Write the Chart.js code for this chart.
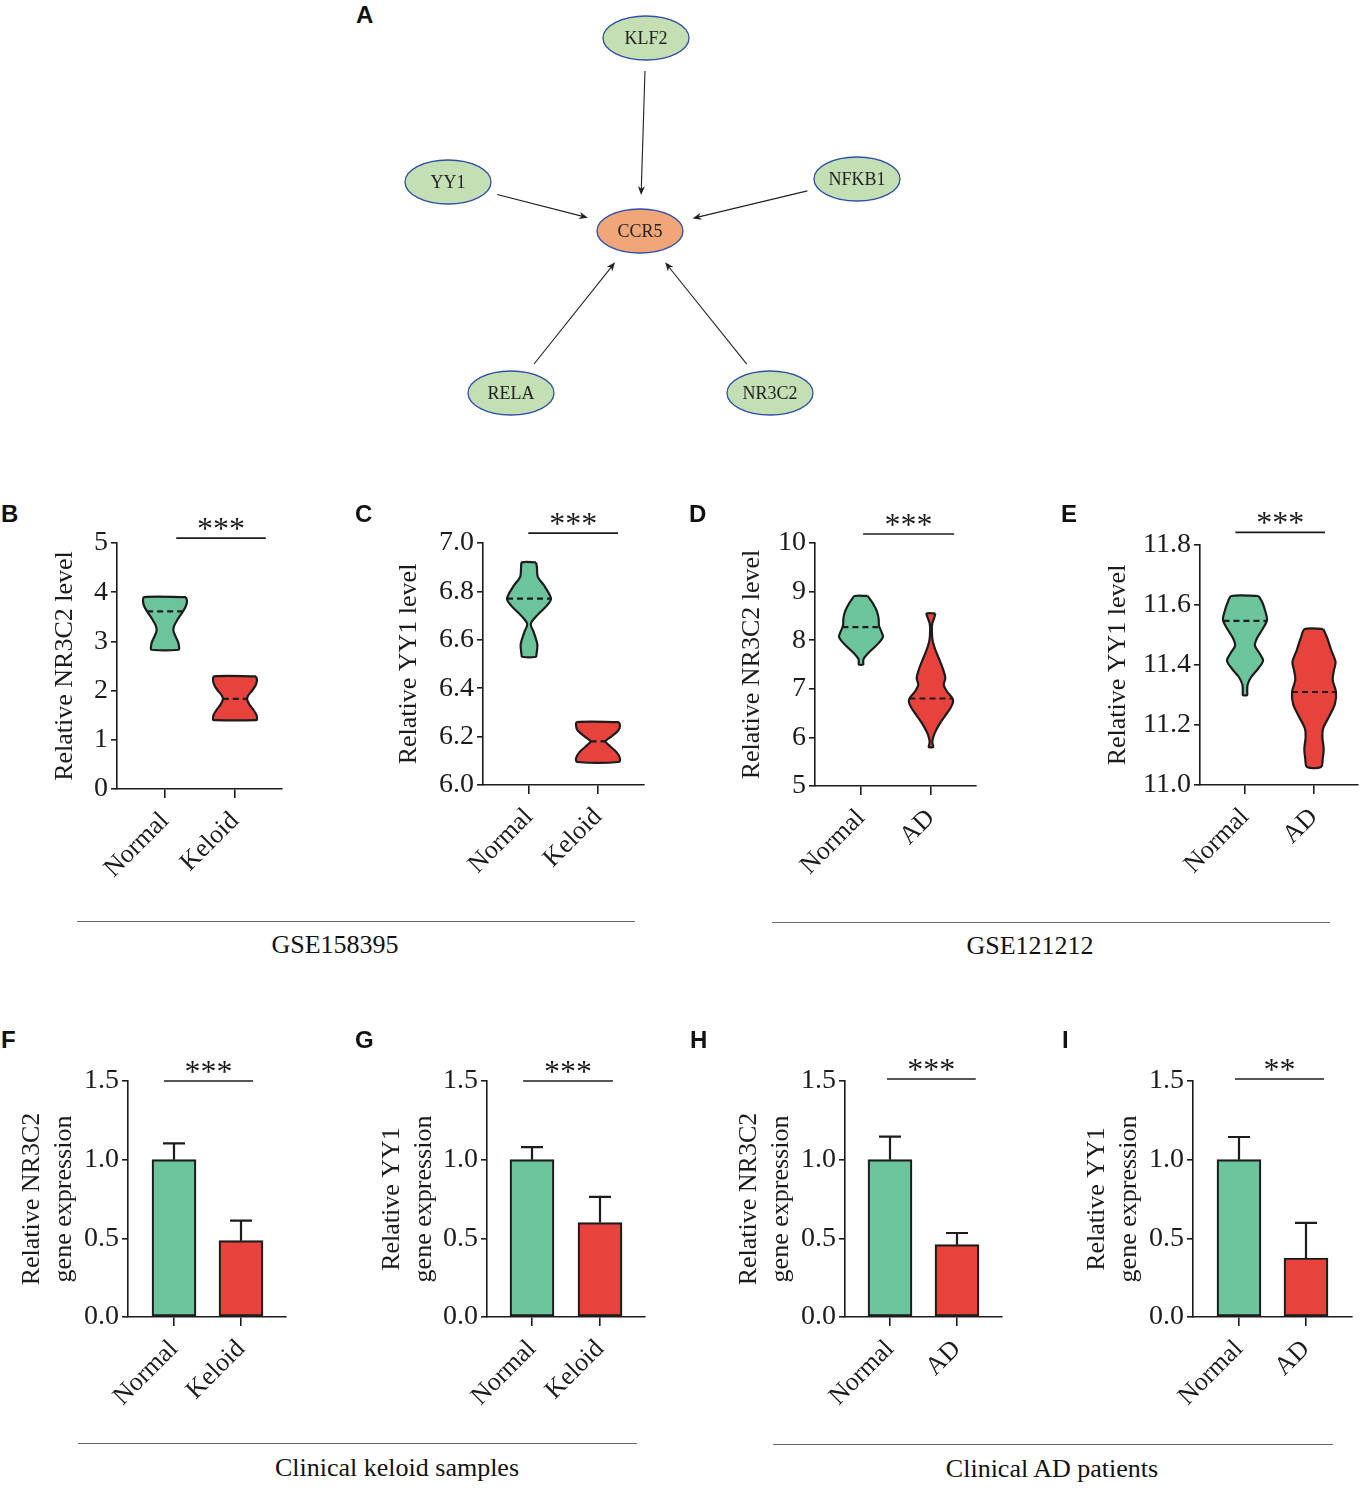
<!DOCTYPE html>
<html><head><meta charset="utf-8">
<script src="https://cdn.jsdelivr.net/npm/chart.js@4.4.1/dist/chart.umd.min.js"></script>
<style>
body{margin:0;background:#fff;}
#fig{position:relative;width:1369px;height:1493px;overflow:hidden;background:#fff;}
canvas{position:absolute;}
.lbl{position:absolute;font-family:"Liberation Sans",Arial,sans-serif;font-weight:bold;font-size:24px;line-height:24px;color:#111;}
.grp{position:absolute;font-family:"Liberation Serif","Times New Roman",serif;font-size:26px;line-height:26px;color:#111;transform:translate(-50%,-50%);white-space:nowrap;}
.rule{position:absolute;height:0;border-top:1px solid #6a6a6a;}
</style></head><body><div id="fig"></div>
<script>
// ---------------- DATA ----------------
// Panel A network (layout units, CCR5 at origin)
const networkNodes = ['KLF2','YY1','NFKB1','CCR5','RELA','NR3C2'];
const networkX = [0.06,-1.92,2.17,0,-1.29,1.30];
const networkY = [1.93,0.49,0.52,0,-1.62,-1.62];
const networkEdges = [['KLF2','CCR5'],['YY1','CCR5'],['NFKB1','CCR5'],['RELA','CCR5'],['NR3C2','CCR5']];

const keloidGroups = ['Normal','Keloid'];
const adGroups = ['Normal','AD'];

// Violin profiles: [value, relative density width]
const violinB_normal = [[3.90,0.95],[3.82,1.0],[3.72,0.95],[3.60,0.80],[3.45,0.58],[3.32,0.42],[3.22,0.38],[3.10,0.48],[2.98,0.60],[2.88,0.64],[2.83,0.62]];
const violinB_keloid = [[2.29,0.95],[2.22,1.0],[2.12,0.95],[2.00,0.78],[1.90,0.60],[1.82,0.55],[1.72,0.65],[1.60,0.85],[1.50,0.98],[1.42,1.0],[1.40,0.97]];
const medianB = [3.61,1.83];

const violinC_normal = [[6.92,0.32],[6.90,0.36],[6.86,0.40],[6.82,0.72],[6.77,1.0],[6.74,0.80],[6.70,0.36],[6.665,0.08],[6.63,0.22],[6.58,0.38],[6.54,0.34],[6.53,0.32]];
const violinC_keloid = [[6.26,0.95],[6.245,1.0],[6.225,0.92],[6.20,0.60],[6.18,0.34],[6.16,0.55],[6.135,0.85],[6.11,1.0],[6.095,0.95]];
const medianC = [6.77,6.18];

const violinD_normal = [[8.91,0.30],[8.85,0.40],[8.75,0.55],[8.60,0.72],[8.45,0.80],[8.30,0.82],[8.15,0.95],[8.07,1.0],[7.98,0.88],[7.85,0.60],[7.72,0.30],[7.62,0.12],[7.55,0.10],[7.50,0.10]];
const violinD_ad = [[8.55,0.20],[8.45,0.14],[8.35,0.06],[8.20,0.04],[8.00,0.07],[7.80,0.20],[7.60,0.38],[7.40,0.55],[7.22,0.65],[7.08,0.58],[6.95,0.72],[6.80,0.98],[6.72,1.0],[6.60,0.88],[6.45,0.65],[6.30,0.42],[6.12,0.20],[6.00,0.10],[5.90,0.06],[5.82,0.10],[5.80,0.10]];
const medianD = [8.27,6.80];

const violinE_normal = [[11.63,0.62],[11.61,0.78],[11.58,0.92],[11.55,1.0],[11.52,0.80],[11.49,0.55],[11.465,0.45],[11.44,0.65],[11.415,0.82],[11.39,0.62],[11.36,0.28],[11.335,0.12],[11.31,0.10],[11.30,0.10]];
const violinE_ad = [[11.52,0.42],[11.49,0.60],[11.45,0.78],[11.41,0.98],[11.38,0.90],[11.35,0.85],[11.31,1.0],[11.27,0.95],[11.23,0.70],[11.19,0.42],[11.16,0.38],[11.12,0.44],[11.09,0.40],[11.06,0.32]];
const medianE = [11.547,11.31];

// Bar data: mean and error (upper)
const barF_mean = [1.0,0.485], barF_err = [0.104,0.128];
const barG_mean = [1.0,0.60],  barG_err = [0.08,0.163];
const barH_mean = [1.0,0.46],  barH_err = [0.147,0.074];
const barI_mean = [1.0,0.375], barI_err = [0.144,0.223];

// Tick labels
const yTicksB = [0,1,2,3,4,5];
const yTicksC = [6.0,6.2,6.4,6.6,6.8,7.0];
const yTicksD = [5,6,7,8,9,10];
const yTicksE = [11.0,11.2,11.4,11.6,11.8];
const yTicksBar = [0.0,0.5,1.0,1.5];

// Significance annotations
const sigB = {from:1.16,to:2.44,y:5.1,text:'***'};
const sigC = {from:0.99,to:2.29,y:7.041,text:'***'};
const sigD = {from:1.03,to:2.33,y:10.185,text:'***'};
const sigE = {from:0.86,to:2.16,y:11.842,text:'***'};
const sigF = {from:0.85,to:2.18,y:1.5,text:'***'};
const sigG = {from:0.87,to:2.19,y:1.5,text:'***'};
const sigH = {from:0.955,to:2.28,y:1.513,text:'***'};
const sigI = {from:0.94,to:2.27,y:1.513,text:'**'};

// ---------------- STYLE / HELPERS ----------------
const FONT = '"Liberation Serif","Times New Roman",serif';
const GREEN = '#6CC49C', RED = '#E8423D', INK = '#1c1c1c', NODE_GREEN = '#C5DFB4', NODE_ORANGE = '#F0A679', NODE_EDGE = '#2E4FA6';
const fig = document.getElementById('fig');

function addCanvas(left, top, w, h) {
  const c = document.createElement('canvas');
  c.width = w; c.height = h;
  c.style.left = left + 'px'; c.style.top = top + 'px';
  c.style.width = w + 'px'; c.style.height = h + 'px';
  fig.appendChild(c);
  return c;
}
function addDiv(cls, text, left, top) {
  const d = document.createElement('div');
  d.className = cls; d.textContent = text;
  d.style.left = left + 'px'; d.style.top = top + 'px';
  fig.appendChild(d);
}
function addRule(left, top, width) {
  const d = document.createElement('div');
  d.className = 'rule';
  d.style.left = left + 'px'; d.style.top = top + 'px'; d.style.width = width + 'px';
  fig.appendChild(d);
}

const sigPlugin = {
  id: 'sig',
  afterDraw(chart, args, o) {
    if (!o || !o.text) return;
    const ctx = chart.ctx, x = chart.scales.x, y = chart.scales.y;
    const py = y.getPixelForValue(o.y);
    const x1 = x.getPixelForValue(o.from), x2 = x.getPixelForValue(o.to);
    ctx.save();
    ctx.strokeStyle = INK; ctx.lineWidth = 1.6;
    ctx.beginPath(); ctx.moveTo(x1, py); ctx.lineTo(x2, py); ctx.stroke();
    ctx.fillStyle = INK; ctx.font = '32px ' + FONT;
    ctx.textAlign = 'center'; ctx.textBaseline = 'alphabetic';
    ctx.fillText(o.text, (x1 + x2) / 2, py + 1);
    ctx.restore();
  }
};

const errPlugin = {
  id: 'err',
  afterDatasetsDraw(chart, args, o) {
    if (!o || !o.values) return;
    const ctx = chart.ctx, y = chart.scales.y;
    const meta = chart.getDatasetMeta(0);
    const ds = chart.data.datasets[0].data;
    ctx.save();
    ctx.strokeStyle = INK; ctx.lineWidth = 2.2;
    meta.data.forEach((bar, i) => {
      const top = y.getPixelForValue(ds[i].y + o.values[i]);
      ctx.beginPath();
      ctx.moveTo(bar.x, bar.y); ctx.lineTo(bar.x, top);
      ctx.moveTo(bar.x - o.cap, top); ctx.lineTo(bar.x + o.cap, top);
      ctx.stroke();
    });
    ctx.restore();
  }
};

function axesOptions(p) {
  const L = p.canvas[0], T = p.canvas[1], W = p.canvas[2], H = p.canvas[3];
  const yW = p.area.l - L;
  const xH = T + H - p.area.b;
  const sp = p.ticksPx[1] - p.ticksPx[0];
  const xmin = 1 - (p.ticksPx[0] - p.area.l) / sp;
  const xmax = 2 + (p.area.r - p.ticksPx[1]) / sp;
  const grid = (tl) => ({display: true, drawOnChartArea: false, drawTicks: true, tickLength: tl, color: INK, lineWidth: 1.6, offset: false});
  return {
    responsive: false, animation: false, events: [],
    layout: {padding: {left: 0, top: p.area.t - T, right: L + W - p.area.r, bottom: 0}},
    plugins: {legend: {display: false}, tooltip: {enabled: false}, sig: p.sig, err: p.err || {}},
    scales: {
      x: {
        type: 'linear', min: xmin, max: xmax, bounds: 'data', position: 'bottom', offset: false,
        afterBuildTicks: s => { s.ticks = p.cats.map((c, i) => ({value: i + 1})); },
        afterFit: s => { s.height = xH; s.paddingLeft = 0; s.paddingRight = 0; },
        ticks: {autoSkip: false, minRotation: 45, maxRotation: 45, padding: 8,
          font: {family: FONT, size: 26}, color: INK,
          callback: v => p.cats[Math.round(v) - 1]},
        grid: grid(9),
        border: {display: true, color: INK, width: 1.6}
      },
      y: {
        type: 'linear', min: p.yTicks[0], max: p.yTicks[p.yTicks.length - 1], bounds: 'data',
        afterBuildTicks: s => { s.ticks = p.yTicks.map(v => ({value: v})); },
        afterFit: s => { s.width = yW; s.paddingTop = 0; s.paddingBottom = 0; },
        ticks: {padding: 3, font: {family: FONT, size: 28}, color: INK,
          callback: v => Number(v).toFixed(p.dec)},
        grid: grid(6),
        border: {display: true, color: INK, width: 1.6},
        title: {display: true, text: p.title, color: INK, padding: 0,
          font: {family: FONT, size: 26, lineHeight: 1.2}}
      }
    }
  };
}

function polygon(profile, center, half) {
  const right = profile.map(q => ({x: center + q[1] * half, y: q[0]}));
  const left = profile.slice().reverse().map(q => ({x: center - q[1] * half, y: q[0]}));
  return right.concat(left, [right[0]]);
}
function widthAt(profile, v) {
  for (let i = 0; i < profile.length - 1; i++) {
    const a = profile[i][0], b = profile[i + 1][0];
    if (v <= a && v >= b) {
      const t = (a - v) / ((a - b) || 1);
      return profile[i][1] + (profile[i + 1][1] - profile[i][1]) * t;
    }
  }
  return 0;
}

function violinPanel(p) {
  const sp = p.ticksPx[1] - p.ticksPx[0];
  const half = 22 / sp;
  const colors = [GREEN, RED];
  const datasets = [];
  p.profiles.forEach((prof, i) => {
    const c = i + 1;
    const mw = widthAt(prof, p.medians[i]) * half;
    datasets.push({
      data: [{x: c - mw, y: p.medians[i]}, {x: c + mw, y: p.medians[i]}],
      showLine: true, borderColor: INK, borderWidth: 2.2, borderDash: [6, 4],
      pointRadius: 0, fill: false, tension: 0, order: 0
    });
    datasets.push({
      data: polygon(prof, c, half),
      showLine: true, borderColor: INK, borderWidth: 2.2, backgroundColor: colors[i],
      pointRadius: 0, fill: 'shape', tension: 0.3, order: 1
    });
  });
  const cv = addCanvas(...p.canvas);
  new Chart(cv, {type: 'scatter', data: {datasets}, options: axesOptions(p), plugins: [sigPlugin]});
}

function barPanel(p) {
  const cv = addCanvas(...p.canvas);
  const opts = axesOptions(p);
  opts.plugins.err = {values: p.errs, cap: 11};
  new Chart(cv, {
    type: 'bar',
    data: {datasets: [{
      data: p.means.map((m, i) => ({x: i + 1, y: m})),
      backgroundColor: [GREEN, RED], borderColor: INK, borderWidth: 2.2,
      borderSkipped: false, barThickness: 44
    }]},
    options: opts,
    plugins: [sigPlugin, errPlugin]
  });
}

// ---------------- PANEL A: network ----------------
(function () {
  const cv = addCanvas(380, 0, 540, 440);
  const netPlugin = {
    id: 'net',
    afterDatasetsDraw(chart) {
      const ctx = chart.ctx;
      const meta = chart.getDatasetMeta(0);
      const pos = {};
      networkNodes.forEach((n, i) => { pos[n] = {x: meta.data[i].x, y: meta.data[i].y}; });
      const rx = 43, ry = 22;
      const bd = (dx, dy) => 1 / Math.sqrt((dx / rx) ** 2 + (dy / ry) ** 2);
      ctx.save();
      ctx.strokeStyle = '#222'; ctx.fillStyle = '#222'; ctx.lineWidth = 1.1;
      networkEdges.forEach(([s, t]) => {
        const S = pos[s], T = pos[t];
        let dx = T.x - S.x, dy = T.y - S.y;
        const len = Math.hypot(dx, dy); dx /= len; dy /= len;
        const b = bd(dx, dy);
        const sx = S.x + dx * (b + 11), sy = S.y + dy * (b + 11);
        const ex = T.x - dx * (b + 14), ey = T.y - dy * (b + 14);
        const hl = 9, hw = 3.6;
        ctx.beginPath(); ctx.moveTo(sx, sy); ctx.lineTo(ex - dx * hl * 0.6, ey - dy * hl * 0.6); ctx.stroke();
        ctx.beginPath();
        ctx.moveTo(ex, ey);
        ctx.lineTo(ex - dx * hl - dy * hw, ey - dy * hl + dx * hw);
        ctx.lineTo(ex - dx * hl * 0.7, ey - dy * hl * 0.7);
        ctx.lineTo(ex - dx * hl + dy * hw, ey - dy * hl - dx * hw);
        ctx.closePath(); ctx.fill();
      });
      networkNodes.forEach(n => {
        const P = pos[n];
        ctx.beginPath(); ctx.ellipse(P.x, P.y, rx, ry, 0, 0, Math.PI * 2);
        ctx.fillStyle = n === 'CCR5' ? NODE_ORANGE : NODE_GREEN; ctx.fill();
        ctx.strokeStyle = NODE_EDGE; ctx.lineWidth = 1.3; ctx.stroke();
        ctx.fillStyle = '#222'; ctx.font = '18px ' + FONT;
        ctx.textAlign = 'center'; ctx.textBaseline = 'middle';
        ctx.fillText(n, P.x, P.y + 1);
      });
      ctx.restore();
    }
  };
  new Chart(cv, {
    type: 'scatter',
    data: {datasets: [{data: networkNodes.map((n, i) => ({x: networkX[i], y: networkY[i]})), pointRadius: 0}]},
    options: {
      responsive: false, animation: false, events: [],
      layout: {padding: 0},
      plugins: {legend: {display: false}, tooltip: {enabled: false}},
      scales: {x: {display: false, min: -2.6, max: 2.8}, y: {display: false, min: -2.09, max: 2.31}}
    },
    plugins: [netPlugin]
  });
})();

// ---------------- PANELS B–E: violins ----------------
violinPanel({canvas: [50, 480, 300, 419], area: {l: 117, t: 543, r: 282, b: 789}, ticksPx: [165, 235],
  cats: keloidGroups, yTicks: yTicksB, dec: 0, title: 'Relative NR3C2 level',
  profiles: [violinB_normal, violinB_keloid], medians: medianB, sig: sigB});
violinPanel({canvas: [394, 480, 300, 415], area: {l: 483, t: 543, r: 644, b: 785}, ticksPx: [529, 598],
  cats: keloidGroups, yTicks: yTicksC, dec: 1, title: 'Relative YY1 level',
  profiles: [violinC_normal, violinC_keloid], medians: medianC, sig: sigC});
violinPanel({canvas: [737, 480, 300, 416], area: {l: 815, t: 543, r: 976, b: 786}, ticksPx: [861, 931],
  cats: adGroups, yTicks: yTicksD, dec: 0, title: 'Relative NR3C2 level',
  profiles: [violinD_normal, violinD_ad], medians: medianD, sig: sigD});
violinPanel({canvas: [1103, 480, 266, 415], area: {l: 1200, t: 545, r: 1358, b: 785}, ticksPx: [1245, 1314],
  cats: adGroups, yTicks: yTicksE, dec: 1, title: 'Relative YY1 level',
  profiles: [violinE_normal, violinE_ad], medians: medianE, sig: sigE});

// ---------------- PANELS F–I: bars ----------------
barPanel({canvas: [17, 1020, 320, 407], area: {l: 128, t: 1081, r: 286, b: 1317}, ticksPx: [174, 241],
  cats: keloidGroups, yTicks: yTicksBar, dec: 1, title: ['Relative NR3C2', 'gene expression'],
  means: barF_mean, errs: barF_err, sig: sigF});
barPanel({canvas: [377, 1020, 320, 407], area: {l: 487, t: 1081, r: 645, b: 1317}, ticksPx: [532, 600],
  cats: keloidGroups, yTicks: yTicksBar, dec: 1, title: ['Relative YY1', 'gene expression'],
  means: barG_mean, errs: barG_err, sig: sigG});
barPanel({canvas: [734, 1020, 320, 407], area: {l: 845, t: 1081, r: 1002, b: 1317}, ticksPx: [890, 957],
  cats: adGroups, yTicks: yTicksBar, dec: 1, title: ['Relative NR3C2', 'gene expression'],
  means: barH_mean, errs: barH_err, sig: sigH});
barPanel({canvas: [1082, 1020, 287, 407], area: {l: 1193, t: 1081, r: 1352, b: 1317}, ticksPx: [1239, 1306],
  cats: adGroups, yTicks: yTicksBar, dec: 1, title: ['Relative YY1', 'gene expression'],
  means: barI_mean, errs: barI_err, sig: sigI});

// ---------------- Letters, group rules & labels ----------------
[['A', 356, 3], ['B', 1, 502], ['C', 355, 502], ['D', 689, 502], ['E', 1061, 502],
 ['F', 1, 1028], ['G', 355, 1028], ['H', 690, 1028], ['I', 1062, 1028]].forEach(a => addDiv('lbl', a[0], a[1], a[2]));
addRule(77, 921, 558); addRule(772, 922, 558);
addRule(78, 1443, 559); addRule(773, 1444, 560);
addDiv('grp', 'GSE158395', 335, 945);
addDiv('grp', 'GSE121212', 1030, 946);
addDiv('grp', 'Clinical keloid samples', 397, 1468);
addDiv('grp', 'Clinical AD patients', 1052, 1469);
</script></body></html>
